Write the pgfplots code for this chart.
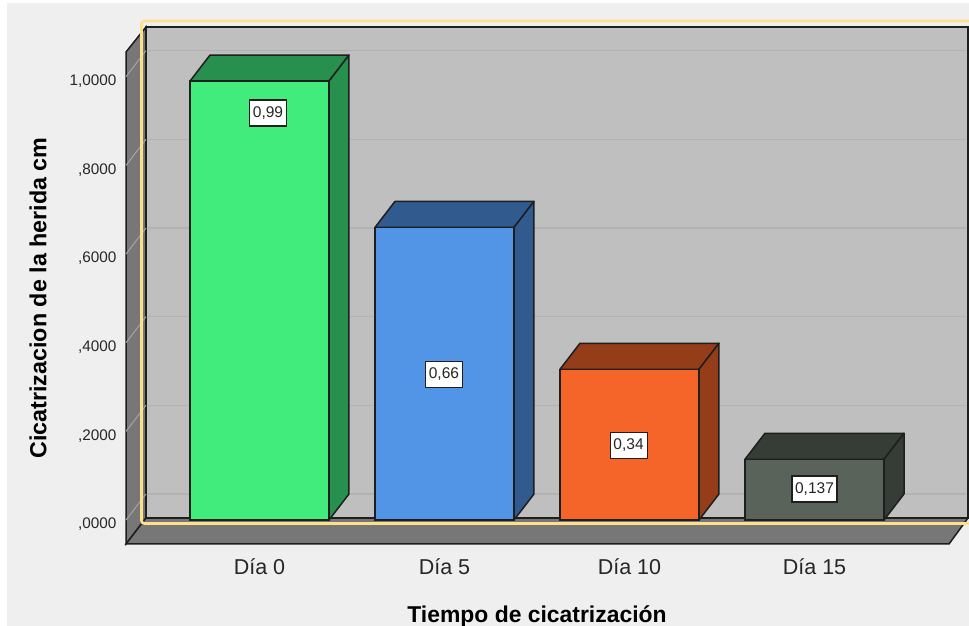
\documentclass[border=0pt]{standalone}
\usepackage{fontspec}
\setmainfont{Liberation Sans}
\usepackage{pgfplots}
\pgfplotsset{compat=1.18}

\definecolor{pagebg}{HTML}{EFEFEF}
\definecolor{wallback}{HTML}{BFBFBF}
\definecolor{wallside}{HTML}{777777}
\definecolor{gridback}{HTML}{B2B2B2}
\definecolor{gridside}{HTML}{A5A5A5}
\definecolor{edge}{HTML}{1E1E1E}
\definecolor{select}{HTML}{FDE08A}
\definecolor{txt}{HTML}{262626}
\definecolor{greenF}{HTML}{41EC7D}
\definecolor{greenD}{HTML}{27904F}
\definecolor{blueF}{HTML}{5294E6}
\definecolor{blueD}{HTML}{315A8E}
\definecolor{orangeF}{HTML}{F5652A}
\definecolor{orangeD}{HTML}{953D19}
\definecolor{slateF}{HTML}{596359}
\definecolor{slateD}{HTML}{363D37}

% one 3D bar: left, right, left and right shifted by the depth, value, value plus depth, front, dark
\newcommand{\solidbar}[9]{%
  \addplot[fill=#8, draw=edge, line width=1.5pt, line join=round] coordinates {(#1,#5)(#3,#6)(#4,#6)(#2,#5)} -- cycle;
  \addplot[fill=#8, draw=edge, line width=1.5pt, line join=round] coordinates {(#2,#5)(#4,#6)(#4,0.0587)(#2,0)} -- cycle;
  \addplot[ybar, bar width=139pt, bar shift=0pt, fill=#7, draw=edge, line width=1.5pt] coordinates {(#9,#5)};
}

\begin{document}
\begin{tikzpicture}[x=1pt,y=1pt]
\useasboundingbox (0,0) rectangle (969,626);
\fill[white] (0,0) rectangle (969,626);
\fill[pagebg] (7,0) rectangle (969,623);
\begin{axis}[
  at={(126pt,82pt)}, anchor=south west,
  scale only axis, width=823pt, height=492pt,
  xmin=-0.7216, xmax=3.727, ymin=-0.0541, ymax=1.0557,
  clip=false,
  axis line style={draw=none},
  tick style={draw=none},
  ytick={0,0.2,0.4,0.6,0.8,1},
  yticklabels={{,0000},{,2000},{,4000},{,6000},{,8000},{1,0000}},
  xtick={0,1,2,3},
  xticklabels={Día 0,Día 5,Día 10,Día 15},
  yticklabel style={font=\fontsize{15.3}{18}\selectfont, text=txt, yshift=-4.5pt, xshift=-6pt},
  xticklabel style={font=\fontsize{21.5}{25}\selectfont, text=txt, yshift=-11.5pt},
  xlabel={Tiempo de cicatrización},
  ylabel={Cicatrizacion de la herida cm},
  xlabel style={font=\bfseries\fontsize{22.9}{27}\selectfont, text=black, at={(axis description cs:0.4994,-0.1483)}, anchor=center},
  ylabel style={font=\bfseries\fontsize{23.3}{27}\selectfont, text=black, at={(axis description cs:-0.1069,0.5)}, anchor=center, rotate=0},
]
% walls and floor
\addplot[fill=wallback, draw=edge, line width=1.5pt] coordinates {(-0.6135,0.0045)(-0.6135,1.1121)(3.8297,1.1121)(3.8297,0.0045)} -- cycle;
\addplot[fill=wallside, draw=edge, line width=1.5pt] coordinates {(-0.7216,-0.0541)(-0.7216,1.0557)(-0.6135,1.1121)(-0.6135,0.0045)} -- cycle;
\addplot[fill=wallside, draw=edge, line width=1.5pt] coordinates {(-0.7216,-0.0541)(-0.6135,0.0045)(3.8297,0.0045)(3.727,-0.0541)} -- cycle;
% gridlines on the back wall
\addplot[gridback, line width=1.2pt] coordinates {(-0.6035,0.0587)(3.82,0.0587)};
\addplot[gridback, line width=1.2pt] coordinates {(-0.6035,0.2587)(3.82,0.2587)};
\addplot[gridback, line width=1.2pt] coordinates {(-0.6035,0.4587)(3.82,0.4587)};
\addplot[gridback, line width=1.2pt] coordinates {(-0.6035,0.6587)(3.82,0.6587)};
\addplot[gridback, line width=1.2pt] coordinates {(-0.6035,0.8587)(3.82,0.8587)};
\addplot[gridback, line width=1.2pt] coordinates {(-0.6035,1.0587)(3.82,1.0587)};
% gridlines on the side wall
\addplot[gridside, line width=1pt] coordinates {(-0.7216,0)(-0.6135,0.0587)};
\addplot[gridside, line width=1pt] coordinates {(-0.7216,0.2)(-0.6135,0.2587)};
\addplot[gridside, line width=1pt] coordinates {(-0.7216,0.4)(-0.6135,0.4587)};
\addplot[gridside, line width=1pt] coordinates {(-0.7216,0.6)(-0.6135,0.6587)};
\addplot[gridside, line width=1pt] coordinates {(-0.7216,0.8)(-0.6135,0.8587)};
\addplot[gridside, line width=1pt] coordinates {(-0.7216,1)(-0.6135,1.0587)};
% the four bars
\solidbar{-0.3757}{0.3757}{-0.2677}{0.4837}{0.99}{1.0487}{greenF}{greenD}{0}
\solidbar{0.6243}{1.3757}{0.7323}{1.4837}{0.66}{0.7187}{blueF}{blueD}{1}
\solidbar{1.6243}{2.3757}{1.7323}{2.4837}{0.34}{0.3987}{orangeF}{orangeD}{2}
\solidbar{2.6243}{3.3757}{2.7323}{3.4837}{0.137}{0.1957}{slateF}{slateD}{3}
% value labels
\tikzset{vlabel/.style={fill=white, draw=edge, line width=1.1pt, inner sep=0pt, minimum height=26pt, font=\fontsize{15.5}{18}\selectfont, text=txt}}
\node[vlabel, minimum width=37pt] at (axis cs:0.046,0.9181) {0,99};
\node[vlabel, minimum width=37pt] at (axis cs:0.997,0.329) {0,66};
\node[vlabel, minimum width=37pt] at (axis cs:1.995,0.169) {0,34};
\node[vlabel, minimum width=45pt] at (axis cs:3,0.07) {0,137};
\end{axis}
% selection frame around the chart area
\draw[select, line width=2.6pt, rounded corners=3pt] (969,605) -- (141.5,605) -- (141.5,102.5) -- (969,102.5);
\end{tikzpicture}
\end{document}
